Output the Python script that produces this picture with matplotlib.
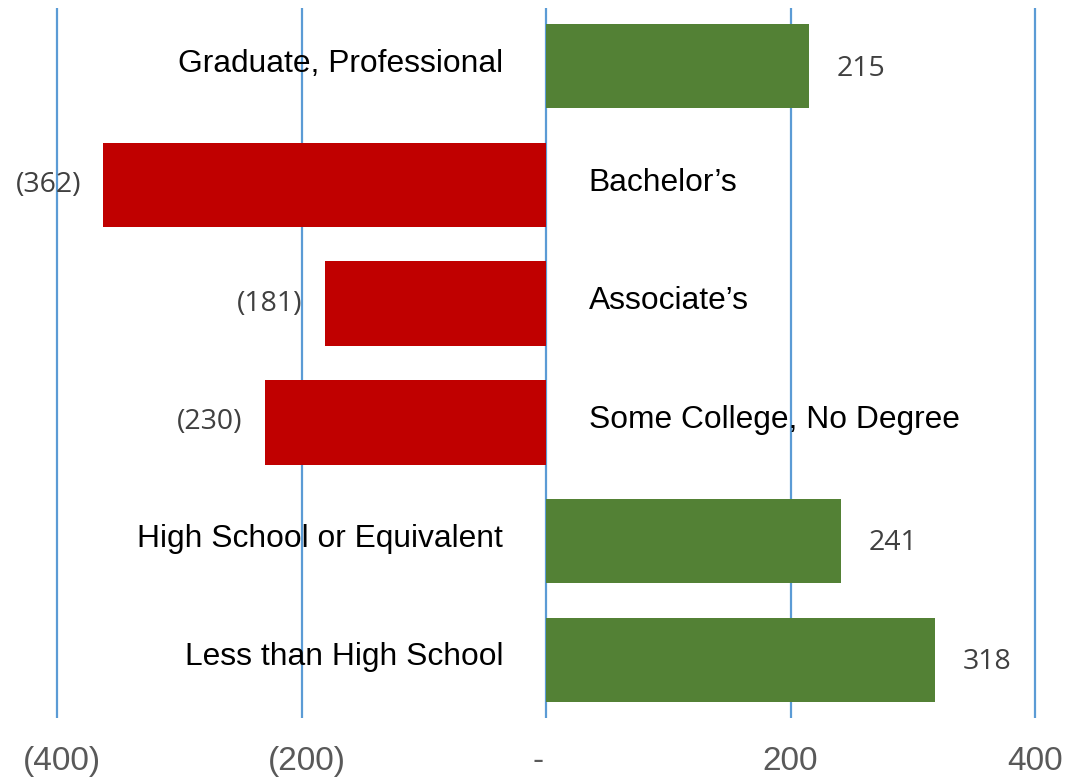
import matplotlib
matplotlib.use("Agg")
import matplotlib.pyplot as plt
import matplotlib.transforms as mtransforms

# data
categories = ["Graduate, Professional", "Bachelor\u2019s", "Associate\u2019s",
              "Some College, No Degree", "High School or Equivalent", "Less than High School"]
values = [215, -362, -181, -230, 241, 318]
tick_values = [-400, -200, 0, 200, 400]
tick_labels = ["(400)", "(200)", "-", "200", "400"]

green = "#538135"
red = "#C00000"
grid_color = "#5B9BD5"

W, H = 1066, 777
fig = plt.figure(figsize=(W / 100, H / 100), dpi=100)

# x: -420..420 so the outer gridlines are not clipped
x0, x1 = -420, 420
px_per_unit = (1035 - 57) / 800
left_px = 57 - 20 * px_per_unit
right_px = 1035 + 20 * px_per_unit
top_px, bottom_px = 8, 718
ax = fig.add_axes([left_px / W, 1 - bottom_px / H, (right_px - left_px) / W, (bottom_px - top_px) / H])

rows = list(range(len(categories)))
colors = [green if v >= 0 else red for v in values]
ax.barh(rows, values, height=0.71, color=colors, zorder=3)

for t in tick_values:
    ax.axvline(t, color=grid_color, lw=1.6, zorder=1)

ax.set_xlim(x0, x1)
ax.set_ylim(len(categories) - 0.51, -0.49)

for sp in ax.spines.values():
    sp.set_visible(False)
ax.set_yticks([])
ax.set_xticks(tick_values)
ax.set_xticklabels(tick_labels)
ax.tick_params(axis="x", length=0, pad=20, labelsize=24, labelcolor="#595959")
# accounting-style labels sit a little off-centre in the original
for lab, t in zip(ax.get_xticklabels(), tick_values):
    lab.set_family(["Liberation Sans Narrow", "Liberation Sans"])
    dx = 5 if t < 0 else (-8 if t == 0 else 0)
    lab.set_transform(lab.get_transform() + mtransforms.ScaledTranslation(dx / 100, 0, fig.dpi_scale_trans))

label_font = ["Liberation Sans", "DejaVu Sans"]
value_font = ["Open Sans", "DejaVu Sans"]

for r, (cat, v) in enumerate(zip(categories, values)):
    # category name on the opposite side of the bar
    if v >= 0:
        ax.text(-35, r - 0.02, cat, ha="right", va="center", fontsize=22.9,
                family=label_font, color="black", zorder=4)
        ax.text(v + 23, r + 0.02, f"{v}", ha="left", va="center", fontsize=20.5,
                family=value_font, color="#404040", zorder=4)
    else:
        ax.text(35, r - 0.02, cat, ha="left", va="center", fontsize=22.9,
                family=label_font, color="black", zorder=4)
        ax.text(v - 18, r, f"({-v})", ha="right", va="center", fontsize=20.5,
                family=value_font, color="#404040", zorder=4)

fig.savefig("out.png", dpi=100)
